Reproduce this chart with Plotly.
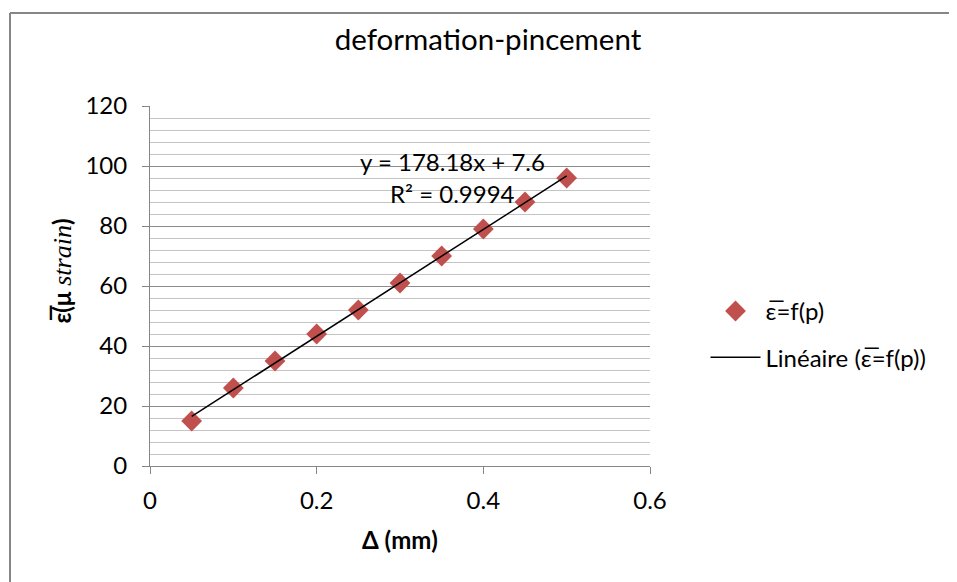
import numpy as np
import plotly.graph_objects as go

# data
delta_mm = [0.05, 0.10, 0.15, 0.20, 0.25, 0.30, 0.35, 0.40, 0.45, 0.50]
strain = [15, 26, 35, 44, 52, 61, 70, 79, 88, 96]

x_ticks = [0, 0.2, 0.4, 0.6]
y_ticks = [0, 20, 40, 60, 80, 100, 120]

# linear trendline (Excel "Linéaire")
x = np.array(delta_mm)
y = np.array(strain)
slope, intercept = np.polyfit(x, y, 1)
fit_y = slope * x + intercept
r2 = 1 - np.sum((y - fit_y) ** 2) / np.sum((y - y.mean()) ** 2)

FONT = "Lato"
EPS = "ε\u0305"

fig = go.Figure()

fig.add_trace(go.Scatter(
    x=delta_mm, y=strain,
    mode='markers',
    name=f'{EPS}=f(p)',
    legendgroup='pts',
    marker=dict(symbol='diamond', size=16, color='#C0504D'),
))

fig.add_trace(go.Scatter(
    x=[x.min(), x.max()], y=[slope * x.min() + intercept, slope * x.max() + intercept],
    mode='lines',
    name=f'Linéaire ({EPS}=f(p))',
    legendgroup='fit',
    line=dict(color='black', width=1.5),
))

# equation + R² labels
fig.add_annotation(x=0.3624, y=101.5, xref='x', yref='y',
                   text=f'y = {slope:.2f}x + {intercept:.1f}',
                   showarrow=False, font=dict(size=24, color='black'))
fig.add_annotation(x=0.3624, y=90.8, xref='x', yref='y',
                   text=f'R² = {r2:.4f}',
                   showarrow=False, font=dict(size=24, color='black'))

# axis titles
fig.add_annotation(x=0.5, y=-0.205, xref='paper', yref='paper',
                   xanchor='center', yanchor='middle',
                   text='<b>Δ (mm)</b>', showarrow=False,
                   font=dict(size=24, color='black'))
fig.add_annotation(x=-0.176, y=0.54, xref='paper', yref='paper',
                   xanchor='center', yanchor='middle',
                   text=f'<b>{EPS}(μ </b><span style="font-family:Liberation Serif;font-size:26px"><i>strain</i></span><b>)</b>',
                   textangle=-90, showarrow=False,
                   font=dict(size=24, color='black'))

# chart-area border (top and left edges visible in the crop)
fig.add_shape(type='line', xref='paper', yref='paper',
              x0=-0.28, x1=1.7, y0=1.2583, y1=1.2583,
              line=dict(color='#868686', width=2))
fig.add_shape(type='line', xref='paper', yref='paper',
              x0=-0.28, x1=-0.28, y0=1.2583, y1=-0.4,
              line=dict(color='#868686', width=2))

fig.update_layout(
    width=957, height=582,
    margin=dict(l=142, r=315, t=98, b=124, autoexpand=False),
    paper_bgcolor='white', plot_bgcolor='white',
    font=dict(family=FONT, size=24, color='black'),
    title=dict(text='deformation-pincement', x=0.5016, y=0.945,
               xanchor='center', yanchor='middle',
               font=dict(family=FONT, size=29.5, color='black')),
    showlegend=True,
    legend=dict(x=1.111, y=0.492, xanchor='left', yanchor='top',
                traceorder='grouped', tracegroupgap=12, itemwidth=50,
                font=dict(family=FONT, size=24, color='black'),
                bgcolor='rgba(0,0,0,0)'),
    xaxis=dict(range=[0, 0.6], tickvals=x_ticks, ticktext=[f'{v:g}' for v in x_ticks],
               showgrid=False, zeroline=False,
               showline=True, linecolor='#868686', linewidth=1,
               ticks='outside', ticklen=7, tickcolor='#868686',
               ticklabelstandoff=6, automargin=False),
    yaxis=dict(range=[0, 120], tickvals=y_ticks, ticktext=[str(v) for v in y_ticks],
               showgrid=True, gridcolor='#8c8c8c', gridwidth=1, zeroline=False,
               showline=True, linecolor='#868686', linewidth=1,
               ticks='outside', ticklen=7, tickcolor='#868686',
               ticklabelstandoff=10, automargin=False,
               minor=dict(dtick=4, showgrid=True, gridcolor='#c4c4c4', gridwidth=1)),
)

fig.write_html("out.html")
